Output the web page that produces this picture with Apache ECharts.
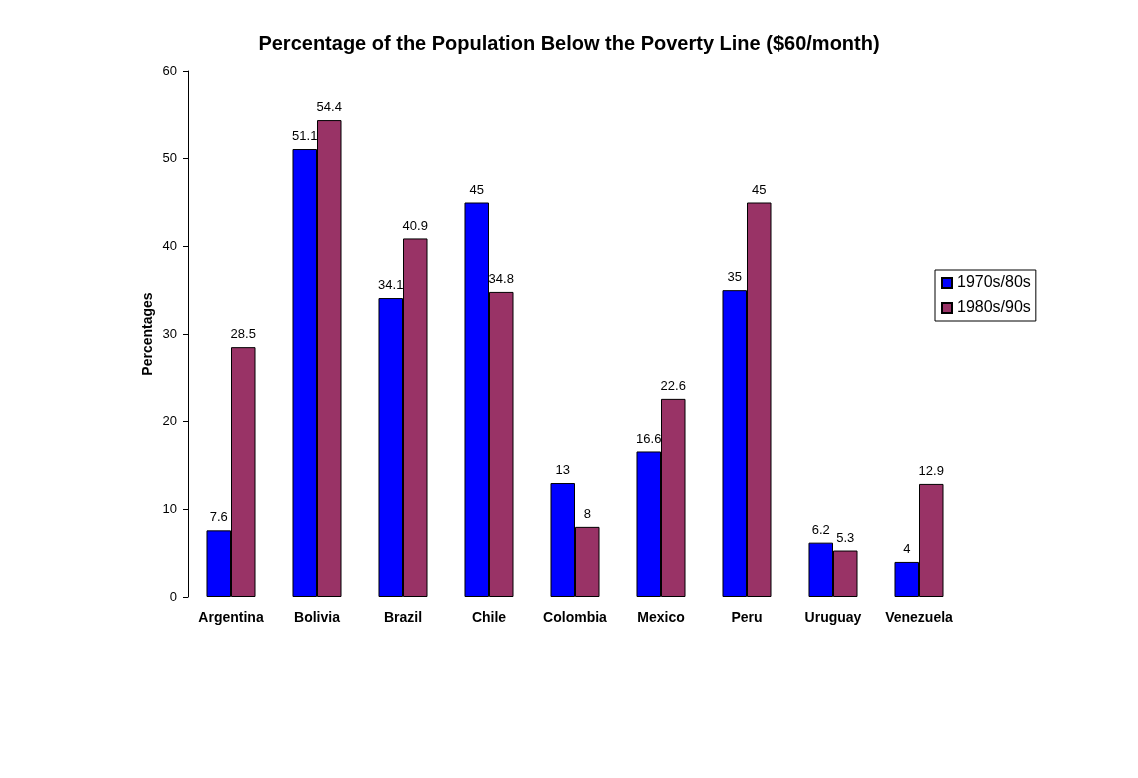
<!DOCTYPE html>
<html><head><meta charset="utf-8">
<script src="https://cdn.jsdelivr.net/npm/echarts@6/dist/echarts.min.js"></script>
<style>html,body{margin:0;padding:0;background:#fff}#c{width:1138px;height:778px}</style>
</head><body><div id="c"></div>
<script>
const categories = ["Argentina","Bolivia","Brazil","Chile","Colombia","Mexico","Peru","Uruguay","Venezuela"];
const series1970 = [7.6,51.1,34.1,45,13,16.6,35,6.2,4];
const series1980 = [28.5,54.4,40.9,34.8,8,22.6,45,5.3,12.9];
const seriesNames = ["1970s/80s","1980s/90s"];
const titleText = "Percentage of the Population Below the Poverty Line ($60/month)";
const yAxisName = "Percentages";

const font = "'Liberation Sans', Arial, sans-serif";
const chart = echarts.init(document.getElementById('c'), null, {renderer:'canvas'});
const label = {show:true, position:'top', distance:6, color:'#000', fontFamily:font, fontSize:13};
chart.setOption({
  backgroundColor:'#fff',
  animation:false,
  title:{text:titleText, left:'center', top:29, textStyle:{fontFamily:font, fontSize:20, fontWeight:'bold', color:'#000'}},
  legend:{
    orient:'vertical', left:935, top:270, itemWidth:10, itemHeight:10, itemGap:9,
    padding:[5,5,5,6], borderColor:'#000', borderWidth:1, borderRadius:0,
    textStyle:{fontFamily:font, fontSize:16, color:'#000'},
    data:seriesNames.map(n=>({name:n, icon:'rect'}))
  },
  grid:{left:188, right:176, top:71, bottom:181, containLabel:false},
  xAxis:{
    type:'category', data:categories,
    axisLine:{show:false}, axisTick:{show:false},
    axisLabel:{fontFamily:font, fontSize:14, fontWeight:'bold', color:'#000', margin:14, interval:0}
  },
  yAxis:{
    type:'value', min:0, max:60, interval:10,
    name:yAxisName, nameLocation:'middle', nameGap:33, nameMoveOverlap:false,
    nameTextStyle:{fontFamily:font, fontSize:14, fontWeight:'bold', color:'#000'},
    axisLine:{show:true, lineStyle:{color:'#000', width:1}},
    axisTick:{show:true, length:5, lineStyle:{color:'#000'}},
    splitLine:{show:false},
    axisLabel:{fontFamily:font, fontSize:13, color:'#000', margin:11}
  },
  series:[
    {name:seriesNames[0], type:'bar', data:series1970, barGap:'0%', barCategoryGap:'43%',
     itemStyle:{color:'#0000FF', borderColor:'#000', borderWidth:1}, label:label},
    {name:seriesNames[1], type:'bar', data:series1980, barGap:'0%', barCategoryGap:'43%',
     itemStyle:{color:'#993366', borderColor:'#000', borderWidth:1}, label:label}
  ]
});
</script></body></html>
